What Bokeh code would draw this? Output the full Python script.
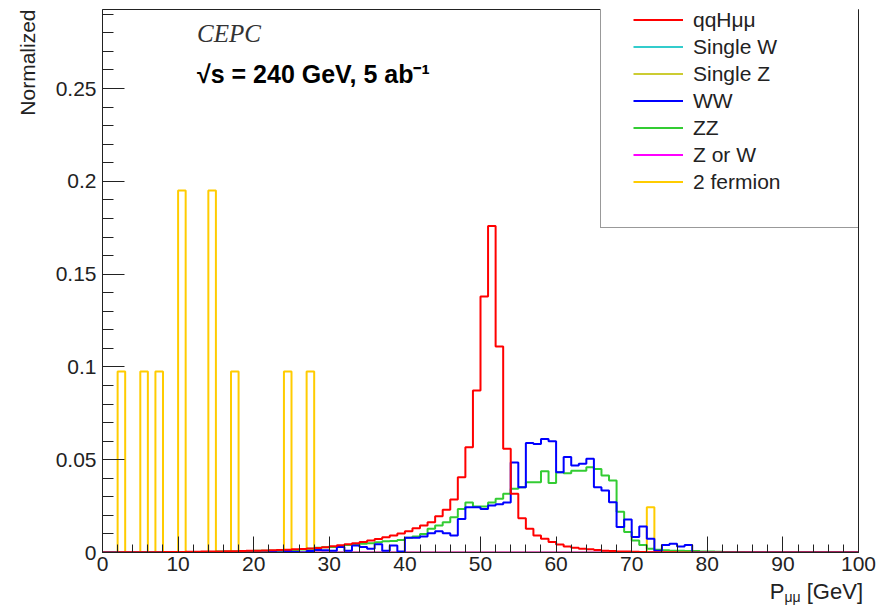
import numpy as np
from bokeh.plotting import figure
from bokeh.layouts import column
from bokeh.models import (Range1d, SingleIntervalTicker, NumeralTickFormatter, Label,
                          Legend, LegendItem, Title, Div)
from bokeh.embed import file_html
from bokeh.resources import INLINE

# ---------------- data (normalized histograms, 1 GeV bins from 0 to 100) ----------------
bin_edges = np.arange(0, 101, 1)

qqHmumu = [
    0, 0, 0.0001, 0.0001, 0.0001, 0.0002, 0.0002, 0.0002, 0.0003, 0.0003,
    0.0003, 0.0004, 0.0004, 0.0005, 0.0005, 0.0006, 0.0007, 0.0007, 0.0008, 0.0009,
    0.0010, 0.0011, 0.0012, 0.0014, 0.0015, 0.0017, 0.0019, 0.0021, 0.0024, 0.0028,
    0.0034, 0.0039, 0.0045, 0.0050, 0.0056, 0.0064, 0.0073, 0.0082, 0.0092, 0.0102,
    0.0115, 0.0130, 0.0145, 0.0163, 0.0195, 0.0230, 0.0285, 0.0406, 0.0567, 0.0873,
    0.138, 0.176, 0.111, 0.0559, 0.0316, 0.0185, 0.0128, 0.0092, 0.0074, 0.0056,
    0.0043, 0.0032, 0.0025, 0.0020, 0.0017, 0.0013, 0.0010, 0.0008, 0.0006, 0.0005,
    0.0004, 0.0003, 0.0002, 0.0001, 0.0001, 0.0001, 0, 0, 0, 0,
    0, 0, 0, 0, 0, 0, 0, 0, 0, 0,
    0, 0, 0, 0, 0, 0, 0, 0, 0, 0,
]

single_W = [0.0] * 100
single_Z = [0.0] * 100
Z_or_W = [0.0] * 100

WW = [
    0, 0, 0, 0, 0, 0, 0, 0, 0, 0,
    0, 0, 0, 0, 0, 0, 0, 0, 0, 0,
    0, 0, 0.0004, 0, 0.0008, 0.0003, 0, 0.0008, 0.0014, 0.0012,
    0.0010, 0.0030, 0.0010, 0.0038, 0.0030, 0.0020, 0.0045, 0.0010, 0.0038, 0.0005,
    0.0080, 0.0080, 0.0086, 0.0104, 0.0115, 0.0104, 0.0092, 0.0180, 0.0244, 0.0244,
    0.0235, 0.0253, 0.0260, 0.0270, 0.0485, 0.0352, 0.0590, 0.0585, 0.0612, 0.0600,
    0.0433, 0.0514, 0.0469, 0.0478, 0.0505, 0.0352, 0.0334, 0.0271, 0.0137, 0.0178,
    0.0083, 0.0140, 0.0074, 0.0010, 0.0040, 0.0047, 0.0032, 0.0040, 0, 0,
    0, 0, 0, 0, 0, 0, 0, 0, 0, 0,
    0, 0, 0, 0, 0, 0, 0, 0, 0, 0,
]

ZZ = [
    0.0002, 0.0002, 0.0002, 0.0002, 0.0002, 0.0002, 0.0002, 0.0002, 0.0002, 0.0002,
    0.0002, 0.0002, 0.0002, 0.0002, 0.0002, 0.0005, 0.0005, 0.0005, 0.0005, 0.0005,
    0.0010, 0.0010, 0.0010, 0.0010, 0.0010, 0.0013, 0.0016, 0.0020, 0.0025, 0.0028,
    0.0030, 0.0035, 0.0040, 0.0043, 0.0047, 0.0050, 0.0055, 0.0060, 0.0062, 0.0068,
    0.0079, 0.0086, 0.0100, 0.0128, 0.0145, 0.0163, 0.0190, 0.0235, 0.0270, 0.0248,
    0.0248, 0.0270, 0.0290, 0.0316, 0.0343, 0.0352, 0.0379, 0.0379, 0.0438, 0.0374,
    0.0433, 0.0427, 0.0440, 0.0440, 0.0460, 0.0450, 0.0415, 0.0388, 0.0220, 0.0110,
    0.0065, 0.0040, 0.0020, 0.0015, 0.0012, 0.0010, 0.0010, 0.0008, 0.0008, 0.0006,
    0.0005, 0.0004, 0.0003, 0.0002, 0.0002, 0, 0, 0, 0, 0,
    0, 0, 0, 0, 0, 0, 0, 0, 0, 0,
]

two_fermion = [
    0, 0, 0.0976, 0, 0, 0.0976, 0, 0.0976, 0, 0,
    0.1951, 0, 0, 0, 0.1951, 0, 0, 0.0976, 0, 0,
    0, 0, 0, 0, 0.0976, 0, 0, 0.0976, 0, 0,
    0, 0, 0, 0, 0, 0, 0, 0, 0, 0,
    0, 0, 0, 0, 0, 0, 0, 0, 0, 0,
    0, 0, 0, 0, 0, 0, 0, 0, 0, 0,
    0, 0, 0, 0, 0, 0, 0, 0, 0, 0,
    0, 0, 0.0244, 0, 0, 0, 0, 0, 0, 0,
    0, 0, 0, 0, 0, 0, 0, 0, 0, 0,
    0, 0, 0, 0, 0, 0, 0, 0, 0, 0,
]

labels = ["qqHμμ", "Single W", "Single Z", "WW", "ZZ", "Z or W", "2 fermion"]
series = [qqHmumu, single_W, single_Z, WW, ZZ, Z_or_W, two_fermion]
colors = ["#ff0000", "#33cccc", "#cccc33", "#0000ff", "#33cc33", "#ff00ff", "#ffcc00"]
draw_order = [6, 1, 2, 5, 4, 3, 0]

FONT = "Liberation Sans"
TXT = "#222222"


def outline(vals):
    xs = np.repeat(bin_edges, 2)
    ys = np.concatenate([[0.0], np.repeat(np.asarray(vals, dtype=float), 2), [0.0]])
    return xs, ys


p = figure(width=878, height=580, output_backend="svg", toolbar_location=None,
           x_range=Range1d(0, 100), y_range=Range1d(0, 0.2926),
           min_border_left=102, min_border_right=20, min_border_top=9, min_border_bottom=28)
p.background_fill_color = "white"
p.border_fill_color = "white"
p.outline_line_color = TXT
p.outline_line_width = 1
p.xgrid.visible = False
p.ygrid.visible = False

renderers = {}
for i in draw_order:
    xs, ys = outline(series[i])
    renderers[i] = p.line(xs, ys, line_color=colors[i], line_width=2)

# axes styling (ROOT-like ticks inside)
p.xaxis.ticker = SingleIntervalTicker(interval=10, num_minor_ticks=5)
p.yaxis.ticker = SingleIntervalTicker(interval=0.05, num_minor_ticks=5)
p.yaxis.formatter = NumeralTickFormatter(format="0.[00]")
for ax in (p.xaxis[0], p.yaxis[0]):
    ax.axis_line_color = TXT
    ax.major_tick_line_color = TXT
    ax.minor_tick_line_color = TXT
    ax.major_tick_out = 0
    ax.minor_tick_out = 0
    ax.major_label_text_font = FONT
    ax.major_label_text_font_size = "21px"
    ax.major_label_text_color = TXT
p.xaxis.major_tick_in = 16
p.xaxis.minor_tick_in = 8
p.yaxis.major_tick_in = 22
p.yaxis.minor_tick_in = 11
p.xaxis.major_label_standoff = 4
p.yaxis.major_label_standoff = 6

# legend
items = [LegendItem(label=labels[i], renderers=[renderers[i]]) for i in range(len(labels))]
legend = Legend(items=items, location=(498, 324), padding=32, spacing=0,
                glyph_width=50, glyph_height=27, label_height=27, label_width=134,
                label_standoff=10, label_text_font=FONT, label_text_font_size="21px",
                label_text_color=TXT, border_line_color="#333333", border_line_width=1,
                background_fill_color="white", background_fill_alpha=1.0)
p.add_layout(legend)

# y-axis title (top aligned, ROOT style)
p.add_layout(Title(text="Normalized", align="right", text_font=FONT,
                   text_font_size="21px", text_font_style="normal",
                   text_color=TXT, standoff=27), "left")

# texts in the frame
p.add_layout(Label(x=12.5, y=0.2797, text="CEPC", text_font="Liberation Serif",
                   text_font_style="italic", text_font_size="25px", text_color="#333333",
                   text_baseline="middle", text_align="left"))
p.add_layout(Label(x=12.5, y=0.258, text="√s = 240 GeV, 5 ab⁻¹", text_font=FONT,
                   text_font_style="bold", text_font_size="25px", text_color="black",
                   text_baseline="middle", text_align="left"))

# x-axis title, right aligned under the frame
xtitle = Div(
    text=('<div style="display:block; width:858px; text-align:right; margin:0; padding:0;'
          ' position:relative; top:-4px; font-family:\'Liberation Sans\';'
          ' font-size:22px; line-height:22px; color:#222222; white-space:nowrap;">'
          'P<sub style="font-size:14px; line-height:0; vertical-align:-3px;">μμ</sub>'
          ' [GeV]</div>'),
    width=878, height=25)

layout = column(p, xtitle, spacing=0)

open("out.html", "w").write(file_html(layout, INLINE))
